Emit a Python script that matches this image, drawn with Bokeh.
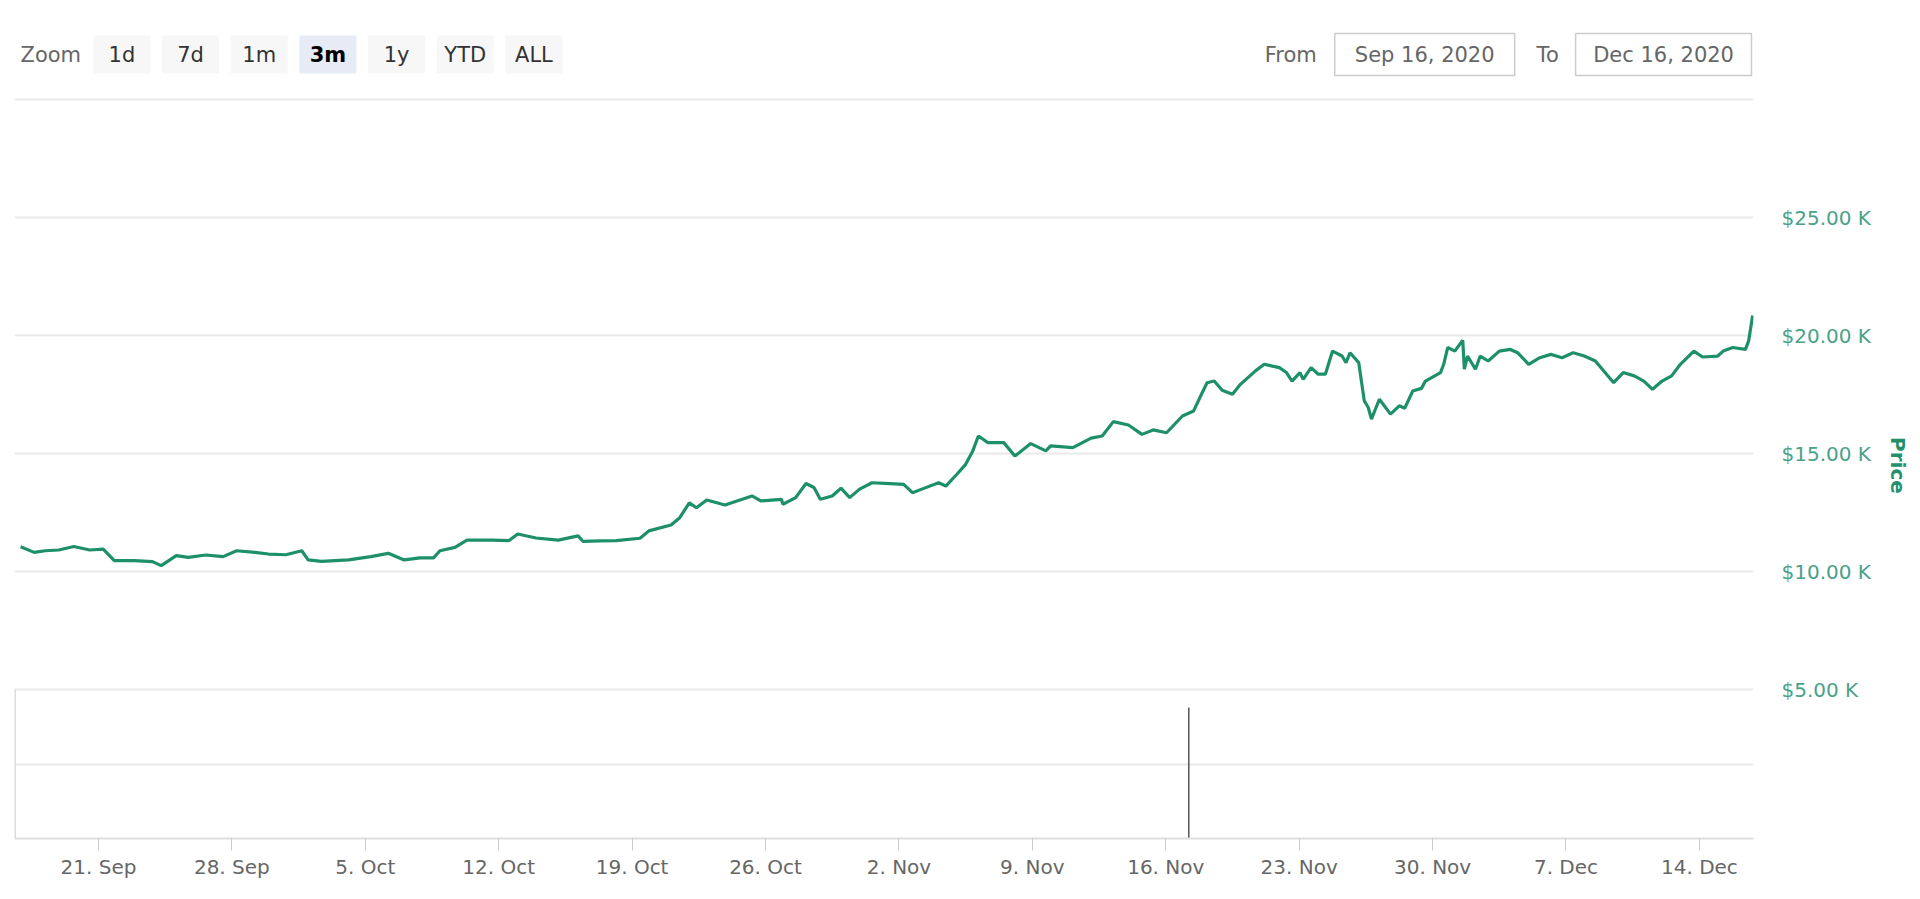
import pandas as pd
from bokeh.plotting import figure
from bokeh.models import (Range1d, FixedTicker, CustomJSTickFormatter, Grid,
                          ColumnDataSource)
from bokeh.layouts import column
from bokeh.embed import file_html
from bokeh.resources import INLINE
from bokeh.core.properties import value

FONT = "DejaVu Sans"

# ---------------- data ----------------
times = [
    "2020-09-16 22:00", "2020-09-17 15:00", "2020-09-18 05:00", "2020-09-18 22:00",
    "2020-09-19 17:00", "2020-09-20 13:00", "2020-09-21 06:00", "2020-09-21 20:00",
    "2020-09-22 21:00", "2020-09-23 20:00", "2020-09-24 07:00", "2020-09-25 02:00",
    "2020-09-25 17:00", "2020-09-26 15:00", "2020-09-27 13:00", "2020-09-28 06:00",
    "2020-09-29 05:00", "2020-09-29 22:00", "2020-09-30 20:00", "2020-10-01 16:00",
    "2020-10-02 00:00", "2020-10-02 17:00", "2020-10-04 03:00", "2020-10-05 07:00",
    "2020-10-06 05:00", "2020-10-07 01:00", "2020-10-07 21:00", "2020-10-08 14:00",
    "2020-10-08 22:00", "2020-10-09 17:00", "2020-10-10 08:00", "2020-10-11 15:00",
    "2020-10-12 13:00", "2020-10-13 00:00", "2020-10-13 23:00", "2020-10-15 03:00",
    "2020-10-16 04:00", "2020-10-16 10:00", "2020-10-17 08:00", "2020-10-18 04:00",
    "2020-10-19 10:00", "2020-10-19 21:00", "2020-10-21 01:00", "2020-10-21 12:00",
    "2020-10-22 00:00", "2020-10-22 09:00", "2020-10-22 22:00", "2020-10-23 21:00",
    "2020-10-25 07:00", "2020-10-25 18:00", "2020-10-26 20:00", "2020-10-26 22:00",
    "2020-10-27 14:00", "2020-10-28 03:00", "2020-10-28 13:00", "2020-10-28 21:00",
    "2020-10-29 12:00", "2020-10-29 23:00", "2020-10-30 10:00", "2020-10-30 22:00",
    "2020-10-31 14:00", "2020-11-01 13:00", "2020-11-02 06:00", "2020-11-02 17:00",
    "2020-11-03 04:00", "2020-11-04 02:00", "2020-11-04 11:00", "2020-11-05 01:00",
    "2020-11-05 12:00", "2020-11-05 21:00", "2020-11-06 04:00", "2020-11-06 16:00",
    "2020-11-07 12:00", "2020-11-08 02:00", "2020-11-08 22:00", "2020-11-09 17:00",
    "2020-11-09 23:00", "2020-11-11 03:00", "2020-11-12 02:00", "2020-11-12 16:00",
    "2020-11-13 06:00", "2020-11-14 01:00", "2020-11-14 18:00", "2020-11-15 08:00",
    "2020-11-16 01:00", "2020-11-16 21:00", "2020-11-17 11:00", "2020-11-17 19:00",
    "2020-11-18 04:00", "2020-11-18 13:00", "2020-11-18 23:00", "2020-11-19 12:00",
    "2020-11-19 22:00", "2020-11-20 17:00", "2020-11-21 04:00", "2020-11-21 23:00",
    "2020-11-22 08:00", "2020-11-22 15:00", "2020-11-23 01:00", "2020-11-23 05:00",
    "2020-11-23 15:00", "2020-11-24 00:00", "2020-11-24 09:00", "2020-11-24 18:00",
    "2020-11-25 06:00", "2020-11-25 11:00", "2020-11-25 16:00", "2020-11-26 03:00",
    "2020-11-26 10:00", "2020-11-26 15:00", "2020-11-26 19:00", "2020-11-27 05:00",
    "2020-11-27 19:00", "2020-11-28 06:00", "2020-11-28 13:00", "2020-11-28 23:00",
    "2020-11-29 10:00", "2020-11-29 15:00", "2020-11-30 10:00", "2020-11-30 14:00",
    "2020-11-30 19:00", "2020-12-01 04:00", "2020-12-01 14:00", "2020-12-01 16:00",
    "2020-12-01 20:00", "2020-12-02 06:00", "2020-12-02 12:00", "2020-12-02 22:00",
    "2020-12-03 12:00", "2020-12-04 02:00", "2020-12-04 11:00", "2020-12-05 01:00",
    "2020-12-05 15:00", "2020-12-06 05:00", "2020-12-06 19:00", "2020-12-07 09:00",
    "2020-12-07 23:00", "2020-12-08 13:00", "2020-12-09 03:00", "2020-12-09 12:00",
    "2020-12-10 00:00", "2020-12-10 14:00", "2020-12-11 02:00", "2020-12-11 13:00",
    "2020-12-12 01:00", "2020-12-12 13:00", "2020-12-13 00:00", "2020-12-13 17:00",
    "2020-12-14 04:00", "2020-12-14 23:00", "2020-12-15 06:00", "2020-12-15 18:00",
    "2020-12-16 10:00", "2020-12-16 14:00", "2020-12-16 19:00",
]
prices = [
    11050, 10810, 10880, 10910, 11060, 10910, 10950, 10460,
    10460, 10420, 10250, 10670, 10600, 10700, 10630, 10880,
    10810, 10740, 10710, 10880, 10490, 10430, 10490, 10630,
    10770, 10490, 10580, 10580, 10880, 11020, 11330, 11330,
    11310, 11590, 11420, 11330, 11510, 11280, 11300, 11310,
    11410, 11720, 11970, 12280, 12910, 12700, 13030, 12820,
    13200, 12990, 13060, 12850, 13130, 13730, 13560, 13060,
    13200, 13530, 13130, 13480, 13760, 13720, 13690, 13340,
    13480, 13760, 13620, 14120, 14540, 15110, 15740, 15460,
    15460, 14890, 15420, 15110, 15320, 15250, 15650, 15740,
    16350, 16210, 15810, 16000, 15880, 16590, 16800, 17370,
    18000, 18070, 17680, 17510, 17930, 18500, 18780, 18640,
    18430, 18070, 18430, 18140, 18640, 18360, 18360, 19340,
    19130, 18850, 19270, 18850, 17230, 16950, 16460, 17300,
    16670, 17020, 16920, 17650, 17760, 18070, 18430, 18780,
    19490, 19340, 19800, 18570, 19130, 18570, 19130, 18920,
    19340, 19410, 19270, 18780, 19060, 19200, 19060, 19270,
    19130, 18920, 18360, 18000, 18430, 18290, 18070, 17720,
    18070, 18290, 18780, 19340, 19090, 19130, 19340, 19490,
    19410, 19770, 20850,
]
nav_times = ["2020-11-17 05:00"]
nav_values = [88]

tick_dates = ["2020-09-21", "2020-09-28", "2020-10-05", "2020-10-12", "2020-10-19",
              "2020-10-26", "2020-11-02", "2020-11-09", "2020-11-16", "2020-11-23",
              "2020-11-30", "2020-12-07", "2020-12-14"]
tick_labels = ["21. Sep", "28. Sep", "5. Oct", "12. Oct", "19. Oct", "26. Oct",
               "2. Nov", "9. Nov", "16. Nov", "23. Nov", "30. Nov", "7. Dec", "14. Dec"]
y_ticks = [5000, 10000, 15000, 20000, 25000]
grid_ticks = [5000, 10000, 15000, 20000, 25000, 30000]

buttons = ["1d", "7d", "1m", "3m", "1y", "YTD", "ALL"]
selected_button = "3m"
range_from = "Sep 16, 2020"
range_to = "Dec 16, 2020"

# ---------------- layout constants ----------------
W = 1912
HEADER_H = 92
MAIN_H = 799
B_LEFT, B_RIGHT, B_TOP, B_BOTTOM = 14, 158, 0, 53
FRAME_W = W - B_LEFT - B_RIGHT
FRAME_H = MAIN_H - B_TOP - B_BOTTOM
PX_PER_DAY = 19.07
PX_PER_K = 23.6
Y5K_FROM_TOP = 597          # pixel row of the 5K line inside the frame
FIRST_TICK_PX = 84          # 21 Sep tick from frame left

t0 = pd.Timestamp(tick_dates[0])
x_start = t0 - pd.Timedelta(days=FIRST_TICK_PX / PX_PER_DAY)
x_end = x_start + pd.Timedelta(days=FRAME_W / PX_PER_DAY)
y_end = 5000 + Y5K_FROM_TOP / PX_PER_K * 1000
y_start = 5000 - (FRAME_H - Y5K_FROM_TOP) / PX_PER_K * 1000
NAV_TOP = 100
nav_end = FRAME_H / (FRAME_H - Y5K_FROM_TOP) * NAV_TOP

GREEN = "#1e9068"
LABEL_GREEN = "#4aa189"
TITLE_GREEN = "#23906c"
GRID = "#e9e9e9"
HFONT = "21px"

# ---------------- header (range selector) ----------------
# header frame is aligned with the chart frame by the column layout, so its
# x range is expressed in page pixels between the two frame edges
h = figure(width=W, height=HEADER_H, x_range=Range1d(B_LEFT, W - B_RIGHT),
           y_range=Range1d(HEADER_H, 0), x_axis_type=None, y_axis_type=None,
           min_border_left=B_LEFT, min_border_right=B_RIGHT, min_border_top=0,
           min_border_bottom=0, outline_line_color=None,
           toolbar_location=None, output_backend="svg")
h.grid.visible = False
row_y = 54
h.text(x=[20], y=[row_y], text=["Zoom"], text_font=value(FONT), text_font_size=HFONT,
       text_color="#666666", text_align="left", text_baseline="middle")
first_c, step = 121.5, 68.7
centers = [first_c + i * step for i in range(len(buttons))]
fills = ["#e6ebf5" if b == selected_button else "#f7f7f7" for b in buttons]
h.rect(x=centers, y=row_y, width=57, height=38, fill_color=fills, line_color=None)
plain = [(c, b) for c, b in zip(centers, buttons) if b != selected_button]
sel = [(c, b) for c, b in zip(centers, buttons) if b == selected_button]
h.text(x=[c for c, _ in plain], y=row_y, text=[b for _, b in plain], text_font=value(FONT),
       text_font_size=HFONT, text_color="#333333", text_align="center", text_baseline="middle")
h.text(x=[c for c, _ in sel], y=row_y, text=[b for _, b in sel], text_font=value(FONT),
       text_font_size=HFONT, text_color="#000000", text_font_style="bold",
       text_align="center", text_baseline="middle")
h.text(x=[1265, 1537], y=row_y, text=["From", "To"], text_font=value(FONT),
       text_font_size=HFONT, text_color="#666666", text_align="left", text_baseline="middle")
h.rect(x=[1425, 1664], y=row_y, width=[180, 176], height=42, fill_color="white",
       line_color="#cccccc", line_width=1.5)
h.text(x=[1425, 1664], y=row_y, text=[range_from, range_to], text_font=value(FONT),
       text_font_size=HFONT, text_color="#666666", text_align="center", text_baseline="middle")

# ---------------- main chart + navigator ----------------
p = figure(width=W, height=MAIN_H, x_axis_type="datetime", y_axis_location="right",
           x_range=Range1d(x_start, x_end), y_range=Range1d(y_start, y_end),
           min_border_left=B_LEFT, min_border_right=B_RIGHT, min_border_top=B_TOP,
           min_border_bottom=B_BOTTOM, outline_line_color=None, toolbar_location=None,
           output_backend="svg")
p.extra_y_ranges = {"nav": Range1d(0, nav_end)}

p.xgrid.visible = False
p.ygrid.ticker = FixedTicker(ticks=grid_ticks)
p.ygrid.grid_line_color = GRID
p.ygrid.grid_line_width = 2
nav_grid = Grid(dimension=1, ticker=FixedTicker(ticks=[NAV_TOP / 2]), y_range_name="nav",
                grid_line_color=GRID, grid_line_width=2)
p.add_layout(nav_grid)

src = ColumnDataSource(dict(t=pd.to_datetime(times), price=prices))
p.line(x="t", y="price", source=src, line_color=GREEN, line_width=3.2)

# navigator left border and series
p.segment(x0=[x_start], y0=[0], x1=[x_start], y1=[NAV_TOP], y_range_name="nav",
          line_color="#dddddd", line_width=3)
nav_src = ColumnDataSource(dict(t=pd.to_datetime(nav_times), v=nav_values,
                                z=[0] * len(nav_values)))
p.segment(x0="t", y0="z", x1="t", y1="v", source=nav_src, y_range_name="nav",
          line_color="#555555", line_width=1.5)

# x axis
tick_ms = [pd.Timestamp(d).value / 1e6 for d in tick_dates]
xa = p.xaxis[0]
xa.ticker = FixedTicker(ticks=tick_ms)
xa.major_label_overrides = {ms: lab for ms, lab in zip(tick_ms, tick_labels)}
xa.axis_line_color = "#dedede"
xa.axis_line_width = 2
xa.major_tick_out = 12
xa.major_tick_in = 0
xa.major_tick_line_color = "#cccccc"
xa.minor_tick_line_color = None
xa.major_label_standoff = 4
xa.major_label_text_font = FONT
xa.major_label_text_font_size = "20px"
xa.major_label_text_color = "#666666"

# y axis (right)
ya = p.yaxis[0]
ya.ticker = FixedTicker(ticks=y_ticks)
ya.formatter = CustomJSTickFormatter(code="return '$' + (tick/1000).toFixed(2) + ' K';")
ya.axis_line_color = None
ya.major_tick_line_color = None
ya.major_tick_out = 0
ya.major_tick_in = 0
ya.minor_tick_line_color = None
ya.major_label_standoff = 28
ya.major_label_text_font = FONT
ya.major_label_text_font_size = "20px"
ya.major_label_text_color = LABEL_GREEN
ya.axis_label = "Price"
ya.axis_label_text_font = FONT
ya.axis_label_text_font_size = "20px"
ya.axis_label_text_font_style = "bold"
ya.axis_label_text_color = TITLE_GREEN
ya.axis_label_standoff = 12

layout = column(h, p, spacing=0)
open("out.html", "w").write(file_html(layout, INLINE))
